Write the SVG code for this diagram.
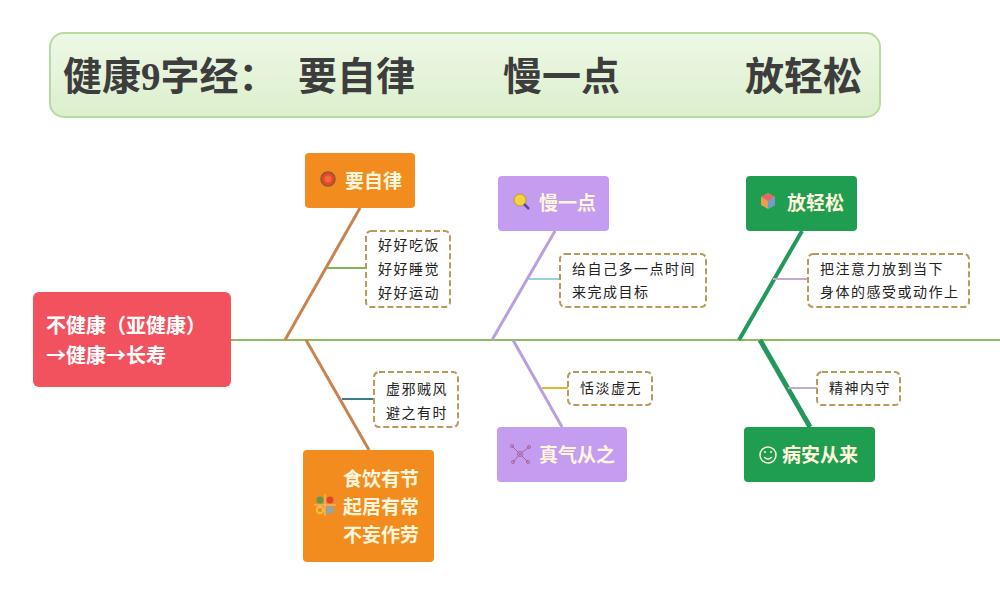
<svg xmlns="http://www.w3.org/2000/svg" width="1000" height="593" viewBox="0 0 1000 593">
<defs>
<linearGradient id="tg" x1="0" y1="0" x2="0" y2="1">
<stop offset="0" stop-color="#eef8e6"/>
<stop offset="1" stop-color="#dcefcc"/>
</linearGradient>
<style>
.title{font-family:"Liberation Serif","Noto Sans CJK SC",serif;font-size:39px;font-weight:bold;fill:#3d3d3d}
.nt{font-family:"Noto Sans CJK SC",sans-serif;font-size:19px;font-weight:bold;fill:#fff6dc}
.lt{font-family:"Noto Sans CJK SC",sans-serif;font-size:20px;font-weight:bold;fill:#ffffff}
.st{font-family:"Noto Sans CJK SC",sans-serif;font-size:14px;fill:#222222;letter-spacing:1.5px}
.db{fill:#ffffff;stroke:#b99a5c;stroke-width:2;stroke-dasharray:6 3}
</style>
</defs>
<rect width="1000" height="593" fill="#ffffff"/>
<g id="title">
<rect x="50" y="33" width="830" height="84" rx="14" fill="url(#tg)" stroke="#b7dba0" stroke-width="2"/>
<text class="title" x="63" y="90">健康9字经：</text>
<text class="title" x="298" y="90">要自律</text>
<text class="title" x="503" y="90">慢一点</text>
<text class="title" x="745" y="90">放轻松</text>
</g>
<g id="connectors" fill="none">
<line x1="231" y1="340" x2="1000" y2="340" stroke="#8cbd5c" stroke-width="2"/>
<line x1="360" y1="208" x2="285" y2="340" stroke="#c9834e" stroke-width="3"/>
<line x1="306" y1="340" x2="369" y2="450" stroke="#c9834e" stroke-width="3"/>
<line x1="326" y1="268" x2="366" y2="268" stroke="#7cb45a" stroke-width="2"/>
<line x1="342" y1="399" x2="374" y2="399" stroke="#3b7c8c" stroke-width="2"/>
<line x1="555" y1="231" x2="492" y2="340" stroke="#b9a0e0" stroke-width="3"/>
<line x1="513" y1="340" x2="562" y2="427" stroke="#b9a0e0" stroke-width="3"/>
<line x1="529" y1="279" x2="560" y2="279" stroke="#9ccfe2" stroke-width="2"/>
<line x1="542" y1="388" x2="568" y2="388" stroke="#e2b830" stroke-width="2"/>
<line x1="802" y1="231" x2="739" y2="340" stroke="#22995a" stroke-width="4"/>
<line x1="760" y1="340" x2="810" y2="427" stroke="#22995a" stroke-width="5"/>
<line x1="773" y1="279" x2="808" y2="279" stroke="#c9a8d0" stroke-width="2"/>
<line x1="788" y1="388" x2="817" y2="388" stroke="#c9a8d0" stroke-width="2"/>
</g>
<g id="root">
<rect x="33" y="292" width="198" height="95" rx="6" fill="#f2525e"/>
<text class="lt" x="46" y="333">不健康（亚健康）</text>
<text class="lt" x="46" y="363">→健康→长寿</text>
</g>
<g id="n-zilv">
<rect x="305" y="153" width="110" height="55" rx="4" fill="#f28c1f"/>
<circle cx="328" cy="179" r="7" fill="#e8452a" stroke="#8a5a3a" stroke-width="1.5"/>
<circle cx="328" cy="179" r="3.5" fill="#f56a3a"/>
<text class="nt" x="345" y="188">要自律</text>
</g>
<g id="n-hh">
<rect class="db" x="366" y="231" width="84" height="76" rx="5"/>
<text class="st" x="378" y="250">好好吃饭</text>
<text class="st" x="378" y="274">好好睡觉</text>
<text class="st" x="378" y="298">好好运动</text>
</g>
<g id="n-xx">
<rect class="db" x="374" y="372" width="84" height="55" rx="5"/>
<text class="st" x="386" y="394">虚邪贼风</text>
<text class="st" x="386" y="418">避之有时</text>
</g>
<g id="n-sy">
<rect x="303" y="450" width="131" height="112" rx="4" fill="#f28c1f"/>
<line x1="325" y1="494" x2="325" y2="516" stroke="#f7c48a" stroke-width="1"/>
<line x1="314" y1="505" x2="336" y2="505" stroke="#f7c48a" stroke-width="1"/>
<circle cx="320" cy="500" r="3.5" fill="#5a9a4a"/>
<circle cx="330" cy="500" r="3.5" fill="#e0452a"/>
<circle cx="320" cy="510" r="3.3" fill="none" stroke="#f2c040" stroke-width="2"/>
<rect x="326.5" y="506.5" width="7" height="7" fill="#8aa8b0"/>
<text class="nt" x="343" y="486">食饮有节</text>
<text class="nt" x="343" y="514">起居有常</text>
<text class="nt" x="343" y="542">不妄作劳</text>
</g>
<g id="n-man">
<rect x="498" y="176" width="111" height="55" rx="4" fill="#c49cf0"/>
<circle cx="520" cy="200" r="6" fill="#f2d440" stroke="#c89a20" stroke-width="1"/>
<line x1="524" y1="204" x2="529" y2="209" stroke="#5a4aa0" stroke-width="2.5"/>
<text class="nt" x="539" y="210">慢一点</text>
</g>
<g id="n-gz">
<rect class="db" x="560" y="254" width="146" height="53" rx="5"/>
<text class="st" x="572" y="274">给自己多一点时间</text>
<text class="st" x="572" y="297">来完成目标</text>
</g>
<g id="n-td">
<rect class="db" x="568" y="372" width="84" height="33" rx="5"/>
<text class="st" x="580" y="393">恬淡虚无</text>
</g>
<g id="n-zq">
<rect x="497" y="427" width="130" height="55" rx="4" fill="#c49cf0"/>
<g stroke="#b0609a" stroke-width="1" fill="none">
<line x1="520" y1="454" x2="512" y2="446"/>
<line x1="520" y1="454" x2="529" y2="447"/>
<line x1="520" y1="454" x2="513" y2="462"/>
<line x1="520" y1="454" x2="528" y2="462"/>
<circle cx="520" cy="454" r="2.5"/>
<circle cx="512" cy="446" r="1.5"/>
<circle cx="529" cy="447" r="1.5"/>
<circle cx="513" cy="462" r="1.5"/>
<circle cx="528" cy="462" r="1.5"/>
</g>
<text class="nt" x="539" y="462">真气从之</text>
</g>
<g id="n-fang">
<rect x="746" y="176" width="111" height="55" rx="4" fill="#1f9d50"/>
<polygon points="768,193 775,197 775,205 768,209 761,205 761,197" fill="#e8a050"/>
<polygon points="768,201 775,197 775,205 768,209" fill="#6aa0d0"/>
<polygon points="761,197 768,193 775,197 768,201" fill="#e06a6a"/>
<text class="nt" x="787" y="210">放轻松</text>
</g>
<g id="n-bz">
<rect class="db" x="808" y="254" width="161" height="53" rx="5"/>
<text class="st" x="820" y="274">把注意力放到当下</text>
<text class="st" x="820" y="297">身体的感受或动作上</text>
</g>
<g id="n-js">
<rect class="db" x="817" y="372" width="83" height="33" rx="5"/>
<text class="st" x="829" y="393">精神内守</text>
</g>
<g id="n-ba">
<rect x="744" y="427" width="131" height="55" rx="4" fill="#1f9d50"/>
<circle cx="768" cy="455" r="8" fill="none" stroke="#fff6dc" stroke-width="1.5"/>
<circle cx="765" cy="452" r="1" fill="#fff6dc"/>
<circle cx="771" cy="452" r="1" fill="#fff6dc"/>
<path d="M764 457 Q768 461 772 457" fill="none" stroke="#fff6dc" stroke-width="1.3"/>
<text class="nt" x="782" y="462">病安从来</text>
</g>
</svg>
